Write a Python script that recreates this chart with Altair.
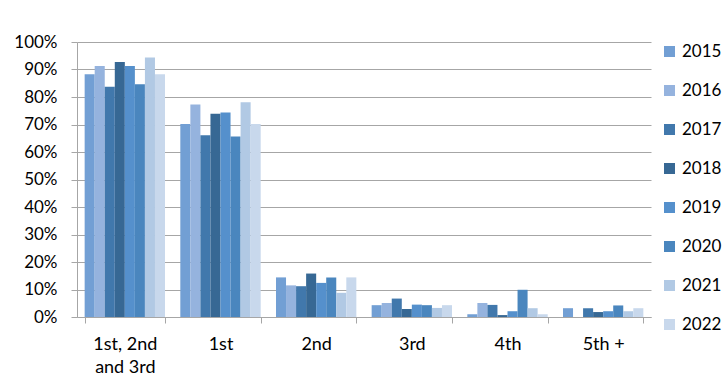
import altair as alt
import pandas as pd

categories = ["1st, 2nd and 3rd", "1st", "2nd", "3rd", "4th", "5th +"]
years = ["2015", "2016", "2017", "2018", "2019", "2020", "2021", "2022"]
colors = ["#729FD4", "#95B3DE", "#4178AC", "#376894", "#5590CC", "#4A86BE", "#B1C9E4", "#C8D8EC"]

v2015 = [0.883, 0.702, 0.144, 0.043, 0.010, 0.032]
v2016 = [0.913, 0.773, 0.115, 0.051, 0.051, 0.0]
v2017 = [0.837, 0.661, 0.112, 0.067, 0.044, 0.032]
v2018 = [0.927, 0.739, 0.158, 0.029, 0.007, 0.018]
v2019 = [0.913, 0.744, 0.124, 0.045, 0.021, 0.021]
v2020 = [0.846, 0.656, 0.144, 0.043, 0.099, 0.042]
v2021 = [0.944, 0.781, 0.088, 0.033, 0.032, 0.021]
v2022 = [0.883, 0.702, 0.144, 0.043, 0.010, 0.032]

series = [v2015, v2016, v2017, v2018, v2019, v2020, v2021, v2022]
rows = []
for y, vals in zip(years, series):
    for c, v in zip(categories, vals):
        rows.append({"category": c, "year": y, "value": v})
df = pd.DataFrame(rows)

FONT = "Lato"
GRID = "#A6A6A6"

chart = alt.Chart(df).mark_bar().encode(
    x=alt.X("category:N", sort=categories, title=None,
            scale=alt.Scale(paddingInner=0.16, paddingOuter=0.08),
            axis=alt.Axis(labelAngle=0, labelFont=FONT, labelFontSize=18, labelColor="#000000",
                          labelPadding=12, tickSize=6, tickColor=GRID, domainColor=GRID,
                          tickBand="extent", labelLineHeight=23,
                          labelExpr="datum.value == '1st, 2nd and 3rd' ? ['1st, 2nd', 'and 3rd'] : datum.value")),
    xOffset=alt.XOffset("year:N", sort=years, scale=alt.Scale(paddingInner=0, paddingOuter=0)),
    y=alt.Y("value:Q", title=None,
            scale=alt.Scale(domain=[0, 1], nice=False),
            axis=alt.Axis(values=[i / 10 for i in range(11)], format=".0%", labelFont=FONT,
                          labelFontSize=17, labelColor="#000000", labelPadding=14, tickSize=6,
                          tickColor=GRID, domainColor=GRID, gridColor=GRID, grid=True)),
    color=alt.Color("year:N", sort=years, scale=alt.Scale(domain=years, range=colors),
                    legend=alt.Legend(title=None, orient="none", legendX=584, legendY=1,
                                      symbolType="square", symbolSize=121, symbolStrokeWidth=0,
                                      labelFont=FONT, labelFontSize=17, labelColor="#000000",
                                      labelOffset=4, rowPadding=21)),
).properties(
    width=574, height=275,
    padding={"left": 77, "top": 42, "right": 77, "bottom": 61},
    autosize=alt.AutoSizeParams(type="none"),
).configure_view(stroke=None).configure_axis(gridWidth=1, domainWidth=1)

chart.save("out.html", embed_options={"renderer": "svg", "actions": False})
